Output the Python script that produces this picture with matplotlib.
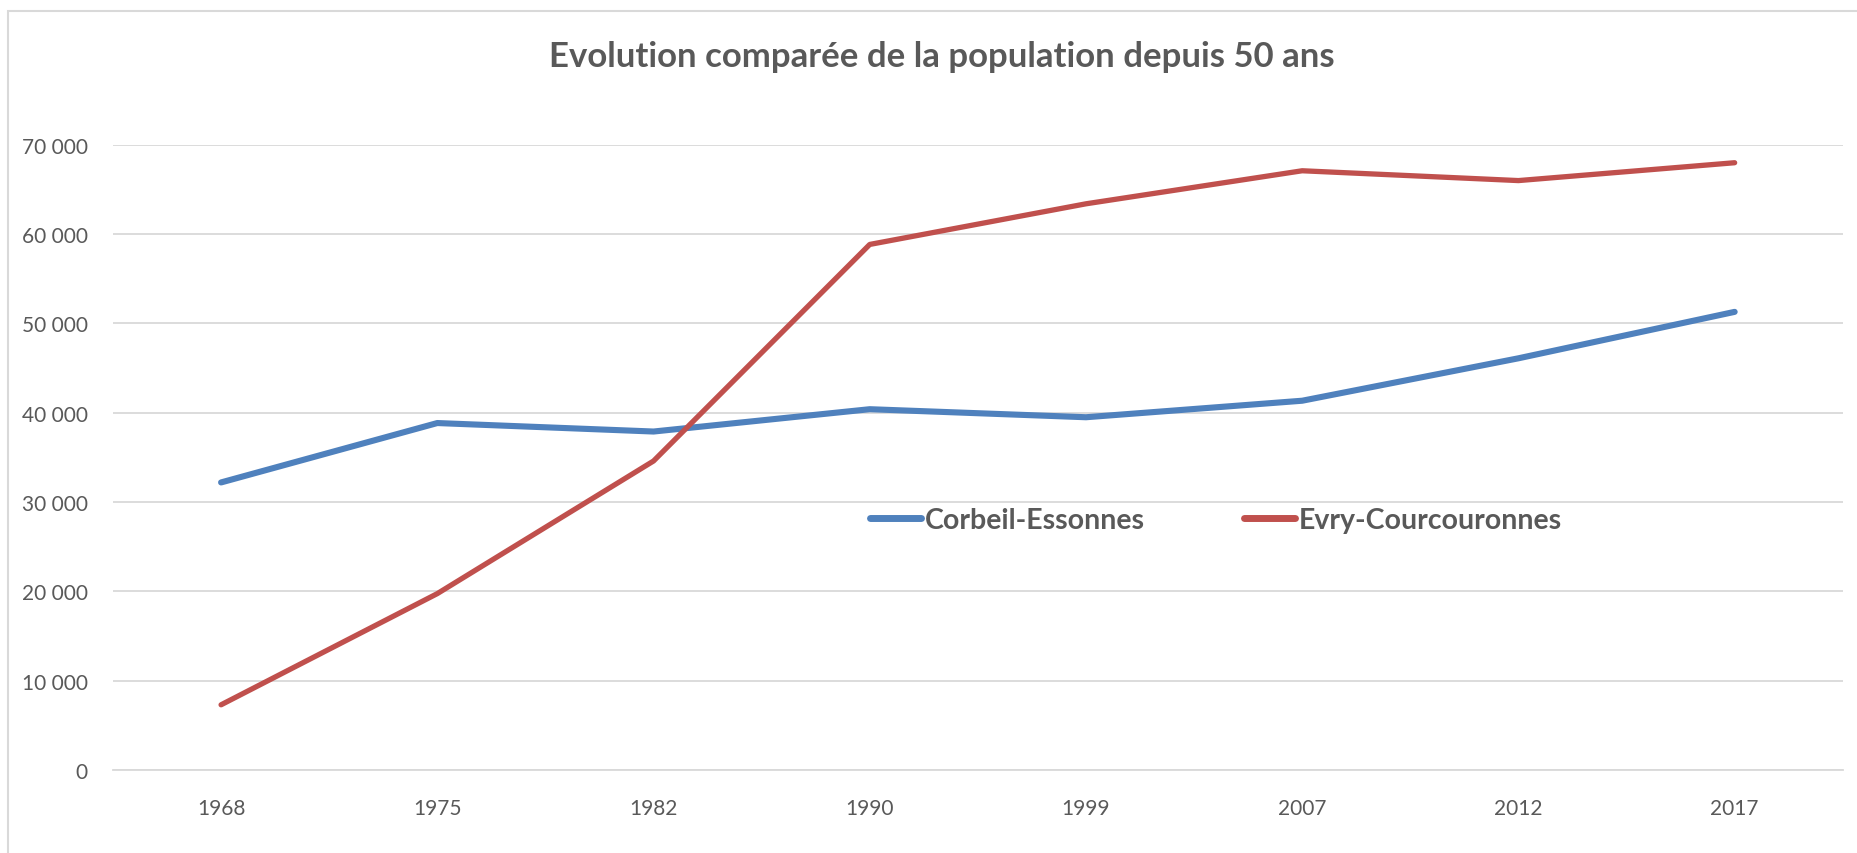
import matplotlib
matplotlib.use("Agg")
import matplotlib.pyplot as plt
from matplotlib.ticker import FuncFormatter

# Data
years = ["1968", "1975", "1982", "1990", "1999", "2007", "2012", "2017"]
corbeil = [32200, 38850, 37900, 40400, 39500, 41350, 46100, 51300]
evry = [7300, 19750, 34600, 58850, 63400, 67100, 66000, 68000]

blue = "#4F81BD"
red = "#C0504D"
grey_txt = "#595959"
grid_col = "#D9D9D9"

plt.rcParams["font.family"] = ["Lato", "DejaVu Sans"]

fig = plt.figure(figsize=(18.58, 8.54), dpi=100)
ax = fig.add_axes([0.0608, 0.0972, 0.931, 0.732])

x = range(len(years))
ax.plot(x, corbeil, color=blue, lw=4.4, solid_capstyle="round", label="Corbeil-Essonnes")
ax.plot(x, evry, color=red, lw=3.8, solid_capstyle="round", label="Evry-Courcouronnes")

ax.set_xlim(-0.5, len(years) - 0.5)
ax.set_ylim(0, 70000)
ax.set_yticks(range(0, 70001, 10000))
ax.yaxis.set_major_formatter(FuncFormatter(lambda v, p: f"{int(v):,}".replace(",", " ")))
ax.set_xticks(list(x))
ax.set_xticklabels(years)

ax.grid(axis="y", color=grid_col, lw=1.3)
ax.set_axisbelow(True)
for s in ["top", "right", "left"]:
    ax.spines[s].set_visible(False)
ax.spines["bottom"].set_color(grid_col)
ax.spines["bottom"].set_linewidth(1.3)
ax.tick_params(axis="both", length=0, labelsize=15, colors=grey_txt)
ax.tick_params(axis="y", pad=18)
ax.tick_params(axis="x", pad=20)

fig.text(0.507, 0.933, "Evolution comparée de la population depuis 50 ans",
         ha="center", va="center", fontsize=25, fontweight="bold", color=grey_txt)

leg = ax.legend(loc="center", bbox_to_anchor=(0.6376, 0.40), ncol=2, frameon=False,
                handlelength=1.8, handletextpad=0.12, columnspacing=3.5,
                prop={"size": 20.5, "weight": "bold"})
for t in leg.get_texts():
    t.set_color(grey_txt)
for h in leg.get_lines():
    h.set_linewidth(5)

# light chart border like the spreadsheet chart area
fig.add_artist(plt.Rectangle((0.0043, -0.01), 1.1, 0.996, transform=fig.transFigure,
                             fill=False, edgecolor="#D9D9D9", lw=1.5))

fig.savefig("out.png", dpi=100)
